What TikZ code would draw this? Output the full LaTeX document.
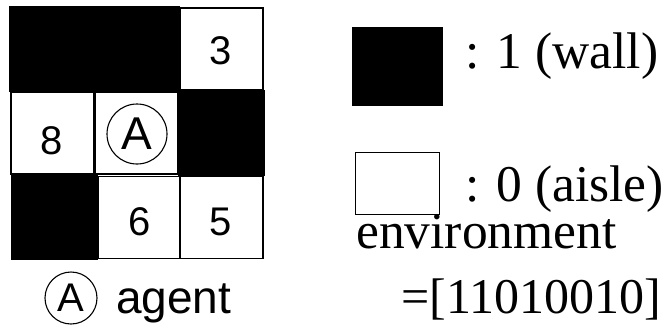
\documentclass[tikz,border=0pt]{standalone}
\usepackage{fontspec}
\setmainfont{Liberation Serif}
\newfontfamily\sansf{Liberation Sans}
\begin{document}
\begin{tikzpicture}[x=1pt,y=-1pt,
  wallcell/.style={draw=black,fill=black,line width=1.2pt,minimum width=85pt,minimum height=84pt,inner sep=0pt,anchor=center},
  aislecell/.style={draw=black,fill=white,line width=1.5pt,minimum width=83pt,minimum height=82pt,inner sep=0pt,anchor=center},
  digit/.style={inner sep=0pt,font=\sansf\fontsize{40}{40}\selectfont},
  agentmark/.style={circle,draw=black,line width=1.1pt,inner sep=0pt},
  serifbig/.style={inner sep=0pt,anchor=base west,font=\fontsize{51.5}{58}\selectfont}]
\useasboundingbox[fill=white] (0,0) rectangle (668,333);
% grid cells
\node[wallcell] (c11) at (52.5,49) {};
\node[wallcell] (c12) at (136.5,49) {};
\node[wallcell] (c23) at (221.5,133) {};
\node[wallcell] (c31) at (54.5,217.5) {};
\node[aislecell] (c13) at (221.5,49) {};
\node[aislecell] (c21) at (52.5,133) {};
\node[aislecell] (c22) at (136.5,133) {};
\node[aislecell] (c32) at (139.5,217.5) {};
\node[aislecell] (c33) at (221.5,217.5) {};
% cell contents
\node[digit] (n3) at (221,51) {3};
\node[digit] (n8) at (52,141) {8};
\node[digit] (n6) at (140,222) {6};
\node[digit] (n5) at (221,222) {5};
\node[agentmark,minimum size=60pt,font=\sansf\fontsize{46}{46}\selectfont] (ag) at (137,134) {A};
% agent legend
\node[agentmark,minimum size=52pt,font=\sansf\fontsize{40}{40}\selectfont] (agl) at (71,298) {A};
\node[inner sep=0pt,anchor=base west,font=\sansf\fontsize{46}{46}\selectfont] (agt) at (116,313) {agent};
% right legend
\node[fill=black,draw=black,minimum width=90pt,minimum height=78pt,inner sep=0pt] (wallkey) at (397,66) {};
\node[fill=white,draw=black,line width=1.3pt,minimum width=84pt,minimum height=62pt,inner sep=0pt] (aislekey) at (397.5,183.5) {};
\node[serifbig] (walltxt) at (465,68) {: 1 (wall)};
\node[serifbig] (aisletxt) at (465,201) {: 0 (aisle)};
\node[serifbig] (envtxt) at (356,248) {environment};
\node[serifbig,font=\fontsize{50}{56}\selectfont] (envval) at (401,313) {=[11010010]};
\end{tikzpicture}
\end{document}
